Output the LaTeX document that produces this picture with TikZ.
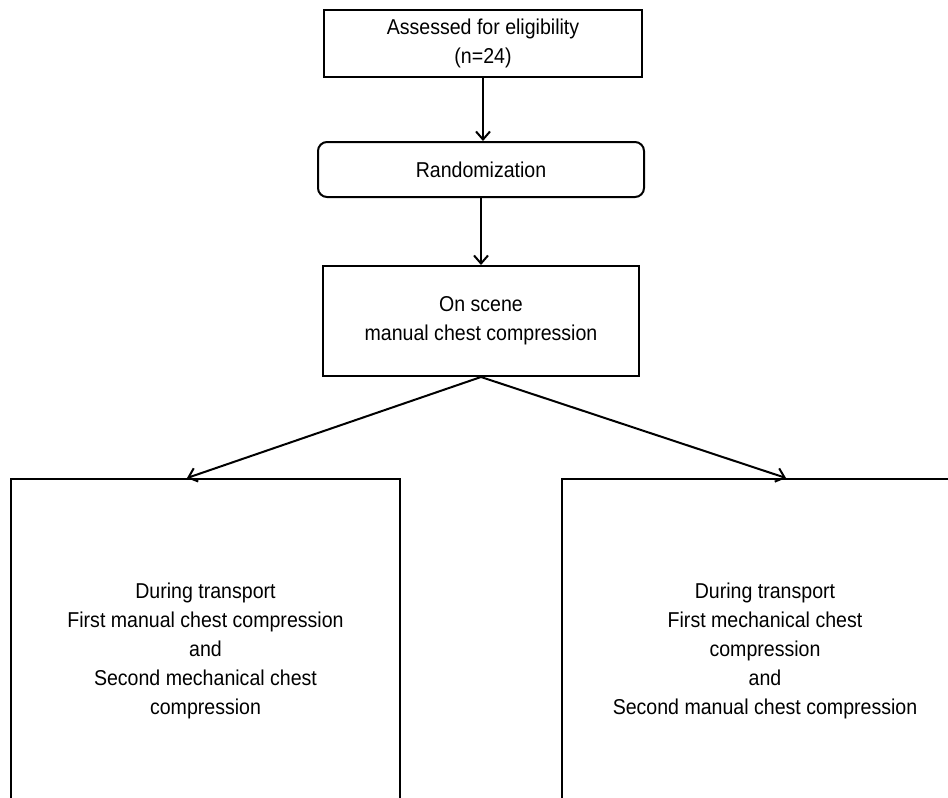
\documentclass[tikz,border=0pt]{standalone}
\usepackage{fontspec}
\setmainfont[FakeStretch=0.91]{Liberation Sans}
\usetikzlibrary{arrows.meta}
\begin{document}
\begin{tikzpicture}[
  x=1pt,y=1pt,
  every node/.style={font=\fontsize{21.5}{29}\selectfont, align=center, inner sep=0pt},
  flowbox/.style={draw=black, line width=2pt},
  roundbox/.style={flowbox, rounded corners=9pt},
  flowarrow/.style={line width=2pt, -{Straight Barb[length=8pt,width=14pt,line width=2pt]}}
]
\useasboundingbox (0,0) rectangle (948,-798);
\fill[white] (0,0) rectangle (948,-798);
\clip (0,0) rectangle (948,-798);

\node[flowbox, minimum width=318pt, minimum height=67pt] (assess) at (483,-43.5)
  {Assessed for eligibility\\(n=24)};
\node[roundbox, minimum width=326pt, minimum height=55pt] (rand) at (481,-169.5)
  {Randomization};
\node[flowbox, minimum width=316pt, minimum height=110pt] (scene) at (481,-321)
  {On scene\\manual chest compression};
\node[flowbox, minimum width=389pt, minimum height=344pt] (left) at (205.5,-651)
  {During transport\\First manual chest compression\\and\\Second mechanical chest\\compression};
\node[flowbox, minimum width=406pt, minimum height=344pt] (right) at (765,-651)
  {During transport\\First mechanical chest\\compression\\and\\Second manual chest compression};

\draw[flowarrow] (assess.south) -- (assess.south |- rand.north);
\draw[flowarrow] (rand.south) -- (scene.north);
\draw[flowarrow] (scene.south) -- ([xshift=177pt]left.north west);
\draw[flowarrow] (scene.south) -- ([xshift=225pt]right.north west);
\end{tikzpicture}
\end{document}
